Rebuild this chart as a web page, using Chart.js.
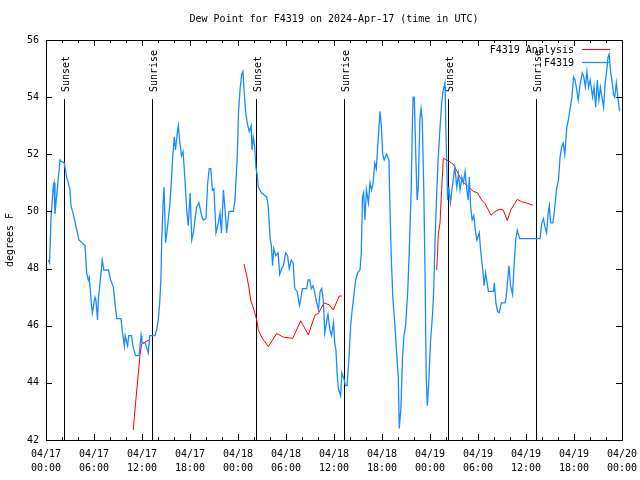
<!DOCTYPE html>
<html>
<head>
<meta charset="utf-8">
<script src="https://cdn.jsdelivr.net/npm/chart.js@4.4.1/dist/chart.umd.min.js"></script>
<style>body{margin:0;background:#fff}</style>
</head>
<body>
<canvas id="chart" width="640" height="480"></canvas>
<script>
// time is hours since 04/17 00:00 UTC
const obsHours = [0.3,0.45,0.63,0.92,1.0,1.12,1.25,1.75,1.89,2.28,2.33,2.58,2.78,2.98,3.12,3.32,3.42,3.84,3.97,4.11,4.54,4.88,5.08,5.29,5.4,5.71,5.8,6.12,6.24,6.44,6.54,6.88,7.03,7.23,7.8,8.08,8.42,8.62,8.84,9.38,9.54,9.79,9.9,10.2,10.35,10.7,10.85,11.19,11.63,11.88,11.98,12.38,12.78,12.97,13.63,13.82,14.04,14.21,14.36,14.46,14.66,14.76,14.95,15.15,15.5,15.7,15.85,16.04,16.19,16.41,16.54,16.74,16.93,17.13,17.33,17.59,17.78,18.02,18.22,18.42,18.82,19.11,19.46,19.66,20.0,20.2,20.4,20.6,20.8,20.99,21.25,21.54,21.75,21.93,22.18,22.38,22.58,22.87,23.42,23.62,23.77,23.91,24.06,24.25,24.46,24.61,24.76,24.95,25.15,25.4,25.65,25.75,25.91,26.09,26.24,26.39,26.54,26.93,27.59,27.77,28.0,28.17,28.32,28.47,28.72,29.01,29.21,29.46,29.67,29.95,30.2,30.4,30.65,30.89,31.09,31.39,31.69,31.83,32.04,32.58,32.77,32.97,33.17,33.37,33.57,33.76,34.06,34.26,34.46,34.66,34.85,35.05,35.25,35.5,35.69,35.94,36.09,36.24,36.39,36.54,36.83,36.98,37.23,37.43,37.63,37.87,38.08,38.27,38.52,38.71,38.96,39.25,39.41,39.56,39.7,39.87,40.05,40.3,40.5,40.69,40.89,41.09,41.29,41.54,41.75,41.93,42.08,42.28,42.58,42.87,42.97,43.17,43.37,43.62,43.83,44.04,44.16,44.36,44.56,44.75,44.95,45.21,45.4,45.64,45.79,45.89,46.04,46.24,46.39,46.54,46.73,46.88,47.03,47.23,47.38,47.53,47.67,47.87,48.07,48.32,48.47,48.61,48.81,49.01,49.26,49.46,49.65,49.87,50.0,50.2,50.35,50.55,50.7,50.9,51.1,51.35,51.55,51.76,51.98,52.18,52.38,52.57,52.77,52.92,53.07,53.27,53.47,53.71,53.86,54.16,54.31,54.46,54.65,54.75,54.95,55.3,55.94,56.04,56.24,56.44,56.63,56.93,57.38,57.52,57.87,58.07,58.32,58.51,58.71,58.91,59.21,61.75,61.98,62.18,62.38,62.57,62.77,62.92,63.07,63.37,63.56,63.83,64.06,64.26,64.45,64.65,64.85,65.1,65.3,65.54,65.74,65.94,66.14,66.34,66.53,66.79,67.03,67.23,67.42,67.62,67.82,68.02,68.32,68.51,68.71,68.91,69.11,69.31,69.5,69.7,69.9,70.1,70.25,70.39,70.59,70.79,70.94,71.09,71.29,71.48,71.68,71.75];
const obsDew = [48.3,48.2,49.8,50.9,51.0,49.9,50.3,51.8,51.75,51.7,51.6,51.2,51.0,50.8,50.2,50.0,49.9,49.35,49.2,49.0,48.9,48.8,47.85,47.6,47.7,46.65,46.45,47.0,46.9,46.2,46.9,47.85,48.3,47.95,47.95,47.6,47.35,46.8,46.25,46.25,45.8,45.3,45.65,45.3,45.65,45.65,45.3,44.95,44.95,45.65,45.4,45.4,45.05,45.65,45.65,45.85,46.2,46.8,47.6,48.95,50.4,50.85,48.9,49.35,50.3,51.2,51.95,52.6,52.15,52.75,53.0,52.4,51.95,52.1,51.3,50.05,49.5,50.65,49.0,49.25,50.15,50.3,49.85,49.7,49.75,50.95,51.5,51.5,50.75,50.8,49.25,49.6,49.95,49.25,50.75,50.05,49.25,50.0,50.0,50.4,51.2,51.95,53.45,54.25,54.8,54.9,54.25,53.5,53.1,52.8,53.0,52.15,52.6,52.25,51.55,51.3,50.85,50.65,50.5,50.2,49.1,48.8,48.1,48.7,48.45,48.55,47.8,48.0,48.1,48.55,48.45,48.0,48.3,48.2,47.3,47.2,46.7,46.9,47.3,47.3,47.6,47.6,47.3,47.4,47.2,46.9,46.55,47.2,47.3,46.9,45.75,46.1,46.4,45.85,45.65,46.1,45.4,45.15,44.35,43.8,43.55,44.35,44.15,43.9,43.9,44.85,46.0,46.55,47.15,47.6,47.85,47.95,48.55,50.5,50.65,49.7,50.75,50.3,51.0,50.75,51.0,51.7,51.5,52.6,53.5,52.95,52.0,51.8,52.0,51.8,50.4,48.3,46.9,46.0,45.05,44.15,42.4,43.1,44.85,45.65,46.0,47.15,48.55,50.65,52.95,54.0,54.0,51.8,50.4,50.85,53.2,53.6,53.2,50.65,47.85,44.15,43.2,44.15,45.5,46.4,47.3,48.8,50.4,51.8,52.95,53.8,54.25,54.5,52.7,50.4,50.85,50.3,50.65,51.1,51.55,50.85,51.3,50.75,51.2,51.0,51.4,50.85,50.4,51.2,50.2,49.7,49.85,49.25,49.0,49.25,48.7,48.3,47.8,47.4,47.85,47.2,47.2,47.5,46.8,46.5,46.45,46.8,46.8,47.0,48.1,47.4,47.1,48.1,49.0,49.35,49.05,49.05,49.6,49.75,49.45,49.25,49.95,50.2,49.6,49.6,50.05,50.8,51.1,51.9,52.25,52.4,52.0,52.95,53.2,53.65,54.0,54.7,54.6,54.25,53.9,54.5,54.85,54.7,54.35,54.9,54.35,54.6,54.0,54.35,53.65,54.6,53.9,54.35,54.0,53.65,54.5,54.95,55.4,55.5,54.85,54.5,54.1,54.0,54.5,54.0,53.55,53.6];

// analysis runs, null breaks the line
const anaHours = [10.9,11.2,11.55,11.75,11.95,12.5,12.9,18,24.75,25.16,25.41,25.59,26.0,26.34,26.54,26.96,27.79,28.84,29.66,30.84,31.84,32.79,33.63,34.04,34.75,35.41,35.91,36.66,36.96,42,48.84,49.04,49.25,49.46,49.66,50.29,50.91,51.34,51.75,52.16,52.79,53.41,53.91,54.46,54.88,55.63,56.13,56.75,57.16,57.66,58.09,58.91,59.46,60.0,60.84];
const anaDew = [42.35,43.3,44.35,45.0,45.35,45.45,45.5,null,48.16,47.66,47.25,46.9,46.55,46.2,45.85,45.6,45.27,45.73,45.6,45.56,46.17,45.68,46.38,46.43,46.8,46.73,46.55,47.04,47.04,null,47.95,49.2,49.6,50.76,51.86,51.77,51.65,51.42,51.2,51.02,50.87,50.7,50.66,50.4,50.28,49.87,50.0,50.08,50.05,49.68,50.05,50.42,50.34,50.3,50.22];

const sunHours = [2.3, 13.3, 26.3, 37.3, 50.3, 61.2];
const sunNames = ['Sunset', 'Sunrise', 'Sunset', 'Sunrise', 'Sunset', 'Sunrise'];

const tickDates = ['04/17','04/17','04/17','04/17','04/18','04/18','04/18','04/18','04/19','04/19','04/19','04/19','04/20'];
const tickTimes = ['00:00','06:00','12:00','18:00','00:00','06:00','12:00','18:00','00:00','06:00','12:00','18:00','00:00'];

const FONT = 'DejaVu Sans Mono';

function pts(xs, ys) {
  return xs.map((x, i) => ({x: x, y: ys[i]}));
}

const decor = {
  id: 'decor',
  beforeDraw(chart) {
    const c = chart.ctx;
    c.save();
    c.fillStyle = '#fff';
    c.fillRect(0, 0, chart.width, chart.height);
    c.restore();
  },
  beforeDatasetsDraw(chart) {
    const c = chart.ctx, xs = chart.scales.x, a = chart.chartArea;
    c.save();
    c.strokeStyle = '#000';
    c.lineWidth = 1;
    c.fillStyle = '#000';
    c.font = '10px "' + FONT + '"';
    sunHours.forEach((h, i) => {
      const px = Math.round(xs.getPixelForValue(h)) + 0.5;
      c.beginPath();
      c.moveTo(px, a.top + 59);
      c.lineTo(px, a.bottom);
      c.stroke();
      c.save();
      c.translate(px + 1.5, a.top + 52);
      c.rotate(-Math.PI / 2);
      c.textAlign = 'left';
      c.textBaseline = 'middle';
      c.fillText(sunNames[i], 0, 0);
      c.restore();
    });
    c.restore();
  },
  afterDraw(chart) {
    const c = chart.ctx, a = chart.chartArea;
    const xs = chart.scales.x, ys = chart.scales.y;
    c.save();
    c.strokeStyle = '#000';
    c.lineWidth = 1;
    c.strokeRect(Math.round(a.left) + 0.5, Math.round(a.top) + 0.5,
      Math.round(a.right - a.left), Math.round(a.bottom - a.top));
    c.beginPath();
    for (let h = 0; h <= 72; h += 2) {
      const px = Math.round(xs.getPixelForValue(h)) + 0.5;
      const len = h % 6 === 0 ? 6 : 3;
      c.moveTo(px, a.bottom); c.lineTo(px, a.bottom - len);
      c.moveTo(px, a.top); c.lineTo(px, a.top + len);
    }
    ys.ticks.forEach(t => {
      const py = Math.round(ys.getPixelForValue(t.value)) + 0.5;
      c.moveTo(a.left, py); c.lineTo(a.left + 6, py);
      c.moveTo(a.right, py); c.lineTo(a.right - 6, py);
    });
    c.stroke();

    // key, top right
    c.font = '10px "' + FONT + '"';
    c.textAlign = 'right';
    c.textBaseline = 'middle';
    chart.data.datasets.forEach((ds, i) => {
      const y = a.top + 9.5 + i * 13;
      c.fillStyle = '#000';
      c.fillText(ds.label, a.right - 48, y + 1);
      c.strokeStyle = ds.borderColor;
      c.lineWidth = ds.borderWidth;
      c.beginPath();
      c.moveTo(a.right - 40, y);
      c.lineTo(a.right - 12, y);
      c.stroke();
    });
    c.restore();
  }
};

new Chart(document.getElementById('chart'), {
  type: 'line',
  data: {
    datasets: [
      {
        label: 'F4319 Analysis',
        data: pts(anaHours, anaDew),
        borderColor: '#ff0000',
        borderWidth: 1,
        pointRadius: 0,
        spanGaps: false,
        order: 1
      },
      {
        label: 'F4319',
        data: pts(obsHours, obsDew),
        borderColor: '#1a8cff',
        borderWidth: 1.3,
        pointRadius: 0,
        order: 0
      }
    ]
  },
  options: {
    responsive: false,
    animation: false,
    events: [],
    layout: {padding: {left: 0, right: 18, top: 0, bottom: 0}},
    plugins: {
      legend: {display: false},
      tooltip: {enabled: false},
      title: {
        display: true,
        fullSize: false,
        text: 'Dew Point for F4319 on 2024-Apr-17 (time in UTC)',
        color: '#000',
        font: {family: FONT, size: 10, weight: 'normal', lineHeight: 1.2},
        padding: {top: 13, bottom: 15}
      }
    },
    scales: {
      x: {
        type: 'linear',
        min: 0,
        max: 72,
        grid: {display: false, drawTicks: false},
        border: {display: false},
        ticks: {
          stepSize: 6,
          autoSkip: false,
          maxRotation: 0,
          padding: 7,
          color: '#000',
          font: {family: FONT, size: 10, lineHeight: 1.4},
          callback: (v, i) => [tickDates[i], tickTimes[i]]
        },
        afterFit: s => { s.height = 40; s.paddingLeft = 0; s.paddingRight = 0; }
      },
      y: {
        min: 42,
        max: 56,
        grid: {display: false, drawTicks: false},
        border: {display: false},
        ticks: {
          stepSize: 2,
          padding: 7,
          color: '#000',
          font: {family: FONT, size: 10}
        },
        title: {
          display: true,
          text: 'degrees F',
          color: '#000',
          font: {family: FONT, size: 10, lineHeight: 1.2},
          padding: {top: 4, bottom: 0}
        },
        afterFit: s => { s.width = 46; s.paddingTop = 0; s.paddingBottom = 0; }
      }
    }
  },
  plugins: [decor]
});
</script>
</body>
</html>
